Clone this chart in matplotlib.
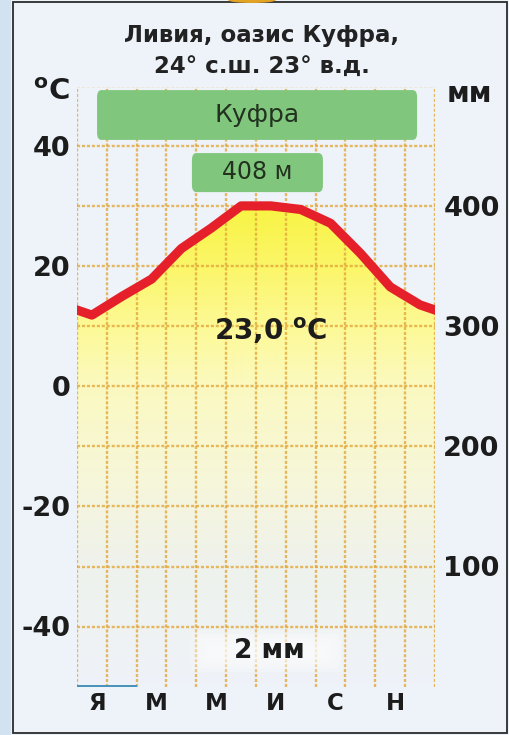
import numpy as np
import matplotlib.pyplot as plt
from matplotlib.patches import FancyBboxPatch, Rectangle, Ellipse
from matplotlib.colors import LinearSegmentedColormap

# Данные климатограммы (оазис Куфра)
months = np.arange(12)
temp = [11.9, 15.0, 17.9, 23.0, 26.4, 30.1, 30.1, 29.5, 27.2, 22.2, 16.6, 13.6]
precip = [1, 1, 0, 0, 0, 0, 0, 0, 0, 0, 0, 0]
month_labels = ['Я', 'М', 'М', 'И', 'С', 'Н']
temp_ticks = [40, 20, 0, -20, -40]
precip_ticks = [100, 200, 300, 400]
title = 'Ливия, оазис Куфра,\n24° с.ш. 23° в.д.'
station = 'Куфра'
altitude = '408 м'
mean_temp = '23,0'
total_precip = '2 мм'

bg = '#eef3f9'
grid_c = '#e3a83c'
W, H = 510, 735

fig = plt.figure(figsize=(W / 100, H / 100), dpi=100)
fig.patch.set_facecolor(bg)

# рамка и полоса слева
fig.patches.append(Rectangle((0, 0), 11 / W, 1, transform=fig.transFigure,
                             facecolor='#d3e2f1', edgecolor='none', zorder=0))
fig.patches.append(Rectangle((13 / W, 2 / H), 494 / W, 731 / H, transform=fig.transFigure,
                             facecolor='none', edgecolor='#2b2b2b', lw=1.3, zorder=0))
fig.patches.append(Ellipse((252 / W, 1.0), 48 / W, 6 / H, transform=fig.transFigure,
                           facecolor='#e2a224', edgecolor='none', zorder=0))

ax = fig.add_axes([77 / W, 1 - 686.5 / H, 358 / W, 600 / H])
ax.set_facecolor(bg)
ax.set_xlim(-0.5, 11.5)
ax.set_ylim(-50, 50)

# замыкаем кривую через декабрь/январь
x_wrap = np.r_[-1, months, 12]
t_wrap = np.r_[temp[-1], temp, temp[0]]

# жёлтая заливка под кривой температуры (градиент)
cmap = LinearSegmentedColormap.from_list('sun', [
    (0.0, bg), (0.2, '#eff2ec'), (0.33, '#f6f6dc'), (0.5, '#fbf9c0'),
    (0.6, '#fdf996'), (0.7, '#fbf668'), (0.8, '#f8f444'), (1.0, '#f8f444')])
poly = ax.fill_between(x_wrap, t_wrap, -50, facecolor='none', edgecolor='none')
grad = np.linspace(50, -50, 400)[:, None]
im = ax.imshow(grad, extent=(-0.5, 11.5, -50, 50), aspect='auto', cmap=cmap,
               vmin=-50, vmax=50, zorder=1)
im.set_clip_path(poly.get_paths()[0], transform=ax.transData)

# сетка
for xv in np.arange(-0.5, 12, 1):
    ax.axvline(xv, color=grid_c, lw=1.7, ls=(0, (1.3, 0.8)), alpha=0.8, zorder=2)
for yv in range(-40, 51, 10):
    ax.axhline(yv, color=grid_c, lw=1.7, ls=(0, (1.3, 0.8)), alpha=0.8, zorder=2)

ax.plot(x_wrap, t_wrap, color='#e5202a', lw=6.6, zorder=4)

for s in ax.spines.values():
    s.set_visible(False)
ax.set_yticks(temp_ticks)
ax.set_yticklabels([str(t) for t in temp_ticks], fontsize=19.5, fontweight='bold', color='#1c1c1c')
ax.set_xticks(months[::2] + 0.17)
ax.set_xticklabels(month_labels, fontsize=16.5, fontweight='bold', color='#1c1c1c')
ax.tick_params(axis='both', length=0)
ax.tick_params(axis='y', pad=5)
ax.tick_params(axis='x', pad=4)

# зелёные плашки
ax.add_patch(FancyBboxPatch((0.056, 0.911), 0.894, 0.083, transform=ax.transAxes,
                            boxstyle='round,pad=0,rounding_size=0.012',
                            facecolor='#80c77d', edgecolor='none', zorder=5))
ax.text(0.503, 0.953, station, transform=ax.transAxes, ha='center', va='center',
        fontsize=18, color='#22321f', zorder=6)
ax.add_patch(FancyBboxPatch((0.321, 0.824), 0.366, 0.065, transform=ax.transAxes,
                            boxstyle='round,pad=0,rounding_size=0.012',
                            facecolor='#80c77d', edgecolor='none', zorder=5))
ax.text(0.504, 0.857, altitude, transform=ax.transAxes, ha='center', va='center',
        fontsize=17, color='#22321f', zorder=6)

ax.text(0.542, 0.5925, mean_temp + r' $^{\mathbf{o}}$C', transform=ax.transAxes,
        ha='center', va='center', fontsize=20, fontweight='bold', color='#1c1c1c', zorder=6)

# подложка под суммой осадков
for k in range(5):
    d = 0.012 * k
    ax.add_patch(FancyBboxPatch((0.316 + d, 0.024 + d / 2), 0.433 - 2 * d, 0.07 - d,
                                transform=ax.transAxes,
                                boxstyle='round,pad=0,rounding_size=0.02',
                                facecolor='white', edgecolor='none', alpha=0.22, zorder=3))

# осадки
ax2 = ax.twinx()
ax2.set_ylim(0, 500)
ax2.bar(months, precip, width=1.0, color='#4a93bc', zorder=3)
for s in ax2.spines.values():
    s.set_visible(False)
ax2.set_yticks(precip_ticks)
ax2.set_yticklabels([str(p) for p in precip_ticks], fontsize=19.5, fontweight='bold', color='#1c1c1c')
ax2.tick_params(axis='y', length=0, pad=6)
ax2.text(0.536, 0.059, total_precip, transform=ax.transAxes, ha='center', va='center',
         fontsize=19, fontweight='bold', color='#1c1c1c', zorder=6)

fig.text(262 / W, 1 - 51 / H, title, ha='center', va='center', fontsize=16.5,
         fontweight='bold', color='#222222', linespacing=1.45)
fig.text(70 / W, 1 - 100 / H, r'$^{\mathbf{o}}$C', ha='right', va='baseline',
         fontsize=21, fontweight='bold', color='#1c1c1c')
fig.text(447 / W, 1 - 102 / H, 'мм', ha='left', va='baseline',
         fontsize=20, fontweight='bold', color='#1c1c1c')

fig.savefig('out.png', dpi=100, facecolor=fig.get_facecolor())
